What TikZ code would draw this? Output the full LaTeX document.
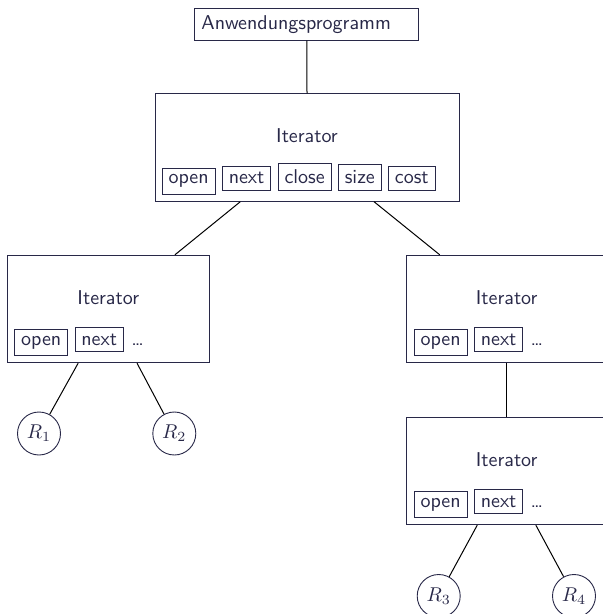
\documentclass[tikz,border=0pt]{standalone}
\usepackage{fontspec}
\usetikzlibrary{positioning}
\definecolor{navy}{RGB}{40,40,72}
\begin{document}
\begin{tikzpicture}[x=0.5pt,y=-0.5pt,
  every node/.style={font=\sffamily, text=navy},
  box/.style={draw=navy, line width=0.45pt, minimum height=53.75pt, inner sep=0pt},
  subbox/.style={draw=navy, line width=0.45pt, inner xsep=3.2pt, inner ysep=3.2pt},
  ttl/.style={anchor=base, inner sep=0pt},
  dotsnode/.style={inner sep=0pt},
  circ/.style={circle, draw=navy, line width=0.45pt, minimum size=21.5pt, inner sep=0.5pt},
  conn/.style={draw=black, line width=0.5pt}]
\clip (0,0) rectangle (603,614);
\useasboundingbox (0,0) rectangle (603,614);

% top
\node[draw=navy, line width=0.45pt, text width=105.4pt, align=left, anchor=north west, inner sep=3.33pt] (app) at (194.3,8.3) {Anwendungsprogramm};

% main iterator
\node[box, minimum width=152pt] (it0) at (307,147.5) {};
\node[ttl] (t0) at (307,143) {Iterator};
\node[subbox, anchor=base west] (o0) at (161.7,184) {open};
\node[subbox, base right=3.2pt of o0] (n0) {next};
\node[subbox, base right=3.2pt of n0] (c0) {close};
\node[subbox, base right=3.2pt of c0] (s0) {size};
\node[subbox, base right=3.2pt of s0] (k0) {cost};

% left iterator
\node[box, minimum width=101pt] (it1) at (108.3,309) {};
\node[ttl] (t1) at (108.3,304) {Iterator};
\node[subbox, anchor=base west] (o1) at (14.3,345) {open};
\node[subbox, base right=3.2pt of o1] (n1) {next};
\node[dotsnode, base right=3.5pt of n1] (d1) {\dots};

% right iterator
\node[box, minimum width=100pt] (it2) at (506.7,309) {};
\node[ttl] (t2) at (506.7,304) {Iterator};
\node[subbox, anchor=base west] (o2) at (413.7,345) {open};
\node[subbox, base right=3.2pt of o2] (n2) {next};
\node[dotsnode, base right=3.5pt of n2] (d2) {\dots};

% bottom right iterator
\node[box, minimum width=100pt] (it3) at (506.7,471) {};
\node[ttl] (t3) at (506.7,466) {Iterator};
\node[subbox, anchor=base west] (o3) at (413.7,507) {open};
\node[subbox, base right=3.2pt of o3] (n3) {next};
\node[dotsnode, base right=3.5pt of n3] (d3) {\dots};

% relations
\node[circ] (r1) at (39,433.5) {$R_1$};
\node[circ] (r2) at (174.3,433.5) {$R_2$};
\node[circ] (r3) at (438.7,596) {$R_3$};
\node[circ] (r4) at (574,596) {$R_4$};

% connectors
\draw[conn] (app.south) -- (it0.north);
\draw[conn] (it0) -- (it1);
\draw[conn] (it0) -- (it2);
\draw[conn] (it2) -- (it3);
\draw[conn] (it1) -- (r1);
\draw[conn] (it1) -- (r2);
\draw[conn] (it3) -- (r3);
\draw[conn] (it3) -- (r4);
\end{tikzpicture}
\end{document}
